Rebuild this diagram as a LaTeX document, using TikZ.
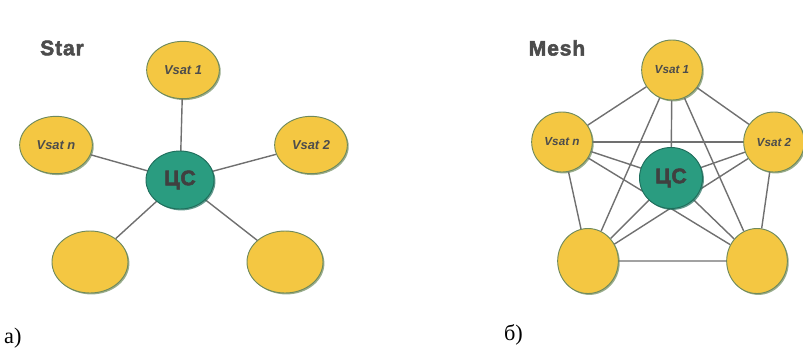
\documentclass[tikz,border=0pt]{standalone}
\usepackage{fontspec}
\setmainfont{Liberation Serif}
\setsansfont{Liberation Sans}
\newfontfamily\heavysans[FakeBold=2.5,LetterSpace=4]{Liberation Sans Bold}
\usetikzlibrary{shapes.geometric, shadows}

\definecolor{satyellow}{HTML}{F4C742}
\definecolor{satedge}{HTML}{6F8A5C}
\definecolor{hubteal}{HTML}{2A9C80}
\definecolor{hubedge}{HTML}{1F6E5C}
\definecolor{linkgray}{HTML}{707070}

\begin{document}
\begin{tikzpicture}[
    x=0.03cm, y=-0.03cm,
    vsat/.style={ellipse, draw=satedge, line width=0.8pt, fill=satyellow, inner sep=0pt,
        drop shadow={shadow xshift=1.2pt, shadow yshift=-1.2pt, fill=satedge, opacity=0.7},
        font=\sffamily\bfseries\itshape\fontsize{11}{12}\selectfont, text=black!70},
    hub/.style={ellipse, draw=hubedge, line width=0.8pt, fill=hubteal, inner sep=0pt,
        drop shadow={shadow xshift=1.2pt, shadow yshift=-1.2pt, fill=hubedge, opacity=0.7},
        font=\heavysans\fontsize{18}{19}\selectfont, text=black!75},
    starsat/.style={vsat, minimum width=2.18cm, minimum height=1.72cm},
    meshsat/.style={vsat, minimum width=1.82cm, minimum height=1.8cm,
        font=\sffamily\bfseries\itshape\fontsize{10}{11}\selectfont},
    title/.style={font=\heavysans\fontsize{18}{19}\selectfont, text=black!70},
    caption/.style={font=\fontsize{19}{20}\selectfont},
    link/.style={draw=linkgray, line width=1.2pt}
]
\useasboundingbox (0,0) rectangle (803,352);

% Star topology
\node[title] (StarTitle) at (62,48) {Star};
\coordinate (StarC) at (180,180);
\node[starsat] (StarSat1) at (183,70) {Vsat 1};
\node[starsat] (StarSatN) at (56,145) {Vsat \textit{n}};
\node[starsat] (StarSat2) at (311,145) {Vsat 2};
\node[starsat, minimum width=2.28cm, minimum height=1.86cm] (StarSatL) at (90,262) {};
\node[starsat, minimum width=2.28cm, minimum height=1.86cm] (StarSatR) at (285,262) {};
\node[caption, anchor=west] (StarCap) at (0,338) {а)};

% Star edges
\draw[link] (StarSat1) -- (StarC);
\draw[link] (StarSatN) -- (StarC);
\draw[link] (StarSat2) -- (StarC);
\draw[link] (StarSatL) -- (StarC);
\draw[link] (StarSatR) -- (StarC);
\node[hub, minimum width=2.04cm, minimum height=1.74cm] (StarHub) at (StarC) {ЦС};

% Mesh topology
\node[title] (MeshTitle) at (557,48) {Mesh};
\coordinate (MeshC) at (671,178);
\node[meshsat] (MeshSat1) at (672,70) {Vsat 1};
\node[meshsat] (MeshSatN) at (562,142) {Vsat \textit{n}};
\node[meshsat] (MeshSat2) at (774,142) {Vsat 2};
\node[meshsat, minimum height=1.95cm] (MeshSatL) at (588,261) {};
\node[meshsat, minimum height=1.95cm] (MeshSatR) at (757,261) {};
\node[caption, anchor=west] (MeshCap) at (500,335) {б)};

% Mesh edges
\draw[link] (MeshSat1) -- (MeshSat2) -- (MeshSatR) -- (MeshSatL) -- (MeshSatN) -- (MeshSat1);
\draw[link] (MeshSat1) -- (MeshSatL);
\draw[link] (MeshSat1) -- (MeshSatR);
\draw[link] (MeshSatN) -- (MeshSat2);
\draw[link] (MeshSatN) -- (MeshSatR);
\draw[link] (MeshSat2) -- (MeshSatL);
\draw[link] (MeshSat1) -- (MeshC);
\draw[link] (MeshSatN) -- (MeshC);
\draw[link] (MeshSat2) -- (MeshC);
\draw[link] (MeshSatL) -- (MeshC);
\draw[link] (MeshSatR) -- (MeshC);
\node[hub, minimum width=1.89cm, minimum height=1.83cm] (MeshHub) at (MeshC) {ЦС};

\end{tikzpicture}
\end{document}
